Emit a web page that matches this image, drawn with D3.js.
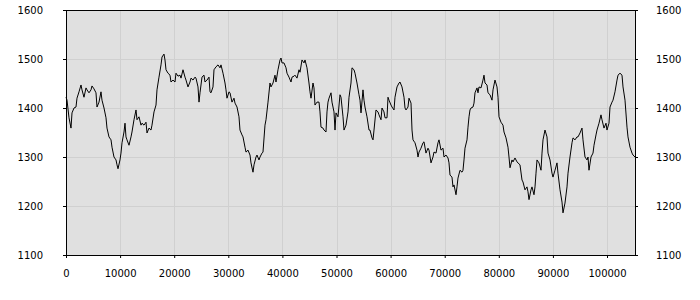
<!DOCTYPE html>
<html><head><meta charset="utf-8">
<script src="https://cdn.jsdelivr.net/npm/d3@7"></script>
<style>html,body{margin:0;padding:0;background:#fff;}svg{display:block;}</style>
</head><body>
<svg id="chart" width="700" height="300"></svg>
<script>
const xValues = [0,185,555,924,1109,1479,1848,2033,2403,2773,2957,3327,3697,3882,4251,4621,4806,5176,5545,5730,6100,6469,6654,7024,7394,7578,7948,8318,8503,8872,9242,9427,9612,9981,10166,10351,10721,10906,11090,11275,11645,12015,12199,12569,12939,13124,13493,13863,14048,14418,14787,14972,15342,15711,15896,16266,16636,16820,17190,17560,17745,18114,18299,18484,18854,19223,19408,19778,20148,20332,20702,21072,21257,21626,21996,22181,22550,22920,23105,23475,23844,24029,24399,24584,24769,25138,25508,25693,26062,26432,26617,26802,27171,27356,27726,28096,28465,28650,29020,29390,29574,29759,30129,30314,30683,31053,31238,31608,31977,32162,32532,32717,33086,33271,33641,34011,34195,34565,34750,35120,35304,35674,35859,36229,36413,36783,36968,37338,37707,37892,38262,38632,38816,39186,39556,39741,39925,40295,40665,40850,41219,41589,41774,42144,42328,42698,43068,43253,43622,43992,44177,44546,44916,45101,45286,45655,45840,46025,46395,46765,46949,47134,47504,47689,48058,48243,48428,48613,48983,49167,49537,49722,49907,50276,50646,50831,51201,51386,51755,52125,52310,52679,52864,53234,53419,53788,54158,54343,54528,54897,55082,55267,55637,56007,56191,56561,56746,56931,57300,57670,57855,58225,58409,58779,58964,59334,59518,59703,60073,60258,60628,60812,61182,61552,61737,62106,62476,62661,62846,63215,63400,63770,63955,64139,64509,64879,65064,65249,65618,65988,66173,66542,66912,67097,67467,67836,68021,68391,68760,68945,69315,69685,69870,70239,70609,70794,70979,71348,71533,71718,72088,72272,72457,72827,73197,73381,73566,73751,74121,74306,74491,74675,74860,75230,75415,75600,75969,76154,76339,76709,77078,77263,77448,77818,78002,78372,78742,78927,79296,79666,79851,80036,80405,80775,80960,81330,81699,81884,82069,82439,82623,82993,83363,83548,83917,84287,84472,84842,85211,85396,85581,85951,86135,86505,86690,86875,87060,87429,87799,87984,88169,88538,88908,89093,89463,89832,90017,90387,90756,90941,91311,91681,91865,92235,92605,92790,93159,93529,93714,94084,94453,94638,95008,95377,95562,95932,96302,96487,96671,97041,97411,97596,97965,98150,98520,98889,99074,99444,99814,99998,100368,100553,100923,101108,101477,101847,102032,102402,102771,102956,103326,103695,103880,104250,104620,104804,105174];
const seriesValues = [1422,1416,1380,1359,1390,1400,1402,1420,1433,1447,1437,1422,1441,1437,1431,1437,1445,1439,1431,1402,1412,1433,1416,1400,1380,1359,1341,1335,1320,1300,1294,1284,1276,1294,1308,1329,1351,1369,1341,1335,1324,1341,1351,1376,1396,1376,1382,1365,1369,1365,1371,1349,1359,1355,1365,1392,1406,1437,1463,1488,1504,1510,1498,1478,1471,1467,1453,1457,1453,1471,1465,1467,1461,1478,1463,1457,1443,1453,1461,1457,1463,1461,1443,1412,1431,1463,1467,1453,1457,1463,1433,1431,1443,1478,1484,1488,1482,1488,1471,1451,1437,1420,1433,1431,1412,1420,1410,1402,1382,1355,1345,1341,1320,1310,1314,1304,1288,1269,1284,1300,1304,1294,1300,1308,1310,1365,1376,1412,1451,1443,1451,1467,1453,1478,1498,1502,1492,1492,1482,1471,1463,1453,1463,1465,1467,1461,1478,1473,1498,1492,1498,1482,1451,1433,1420,1451,1441,1406,1412,1412,1392,1361,1359,1355,1351,1392,1412,1420,1431,1412,1392,1355,1390,1382,1427,1422,1382,1355,1365,1392,1422,1451,1482,1478,1471,1451,1427,1416,1390,1437,1416,1402,1382,1355,1355,1339,1335,1355,1396,1392,1386,1376,1400,1392,1380,1380,1422,1416,1406,1402,1396,1422,1443,1451,1453,1443,1422,1400,1396,1402,1420,1410,1355,1335,1329,1314,1300,1310,1318,1329,1331,1308,1318,1314,1288,1300,1310,1308,1329,1335,1314,1318,1300,1304,1298,1288,1263,1259,1239,1243,1223,1239,1257,1273,1269,1273,1294,1318,1335,1361,1382,1396,1400,1402,1410,1431,1441,1431,1443,1441,1457,1467,1451,1447,1431,1427,1416,1437,1457,1443,1422,1382,1371,1365,1351,1339,1320,1300,1278,1294,1290,1298,1290,1288,1284,1253,1249,1233,1239,1229,1213,1233,1239,1223,1239,1267,1294,1288,1273,1308,1335,1355,1341,1308,1294,1267,1259,1273,1288,1267,1233,1208,1186,1206,1239,1267,1300,1329,1339,1335,1341,1341,1349,1359,1335,1300,1294,1300,1273,1300,1308,1324,1345,1355,1369,1386,1376,1359,1369,1355,1369,1402,1412,1416,1433,1457,1467,1471,1467,1443,1416,1361,1341,1320,1308,1304,1300];
const xTicks = [0,10000,20000,30000,40000,50000,60000,70000,80000,90000,100000];
const yTicks = [1100,1200,1300,1400,1500,1600];
const xDomain = [0, 105174];
const yDomain = [1100, 1600];

const svg = d3.select("#chart");
const m = {left:66, right:65, top:10, bottom:45};
const W = 700, H = 300;
const iw = W - m.left - m.right, ih = H - m.top - m.bottom;
const x = d3.scaleLinear().domain(xDomain).range([m.left, m.left + iw]);
const y = d3.scaleLinear().domain(yDomain).range([m.top + ih, m.top]);

svg.append("rect").attr("x", m.left).attr("y", m.top).attr("width", iw).attr("height", ih).attr("fill", "#e0e0e0");

const grid = svg.append("g").attr("stroke", "#d0d0d0").attr("stroke-width", 1);
grid.selectAll("line.v").data(xTicks.filter(d => d > 0)).join("line")
  .attr("x1", d => Math.round(x(d)) + 0.5).attr("x2", d => Math.round(x(d)) + 0.5)
  .attr("y1", m.top).attr("y2", m.top + ih);
grid.selectAll("line.h").data(yTicks.filter(d => d > 1100 && d < 1600)).join("line")
  .attr("class", "h")
  .attr("y1", d => Math.round(y(d)) + 0.5).attr("y2", d => Math.round(y(d)) + 0.5)
  .attr("x1", m.left).attr("x2", m.left + iw);

const data = xValues.map((v, i) => [v, seriesValues[i]]);
svg.append("path").datum(data)
  .attr("fill", "none").attr("stroke", "#000").attr("stroke-width", 1)
  .attr("d", d3.line().x(d => x(d[0])).y(d => y(d[1])));

const fontStyle = g => {
  g.selectAll("text").attr("font-family", "DejaVu Sans, sans-serif").attr("font-size", 10).attr("fill", "#000");
  g.selectAll("line").attr("stroke", "#000");
  g.select(".domain").remove();
};

svg.append("g").attr("transform", `translate(0,${m.top + ih})`)
  .call(d3.axisBottom(x).tickValues(xTicks).tickFormat(d3.format("d")).tickSize(3).tickPadding(12))
  .call(fontStyle);
svg.append("g").attr("transform", `translate(${m.left},0)`)
  .call(d3.axisLeft(y).tickValues(yTicks).tickFormat(d3.format("d")).tickSize(3).tickPadding(20))
  .call(fontStyle);
svg.append("g").attr("transform", `translate(${m.left + iw},0)`)
  .call(d3.axisRight(y).tickValues(yTicks).tickFormat(d3.format("d")).tickSize(3).tickPadding(18))
  .call(fontStyle);

svg.append("rect").attr("x", m.left + 0.5).attr("y", m.top + 0.5).attr("width", iw).attr("height", ih)
  .attr("fill", "none").attr("stroke", "#000").attr("stroke-width", 1);
</script>
</body></html>
